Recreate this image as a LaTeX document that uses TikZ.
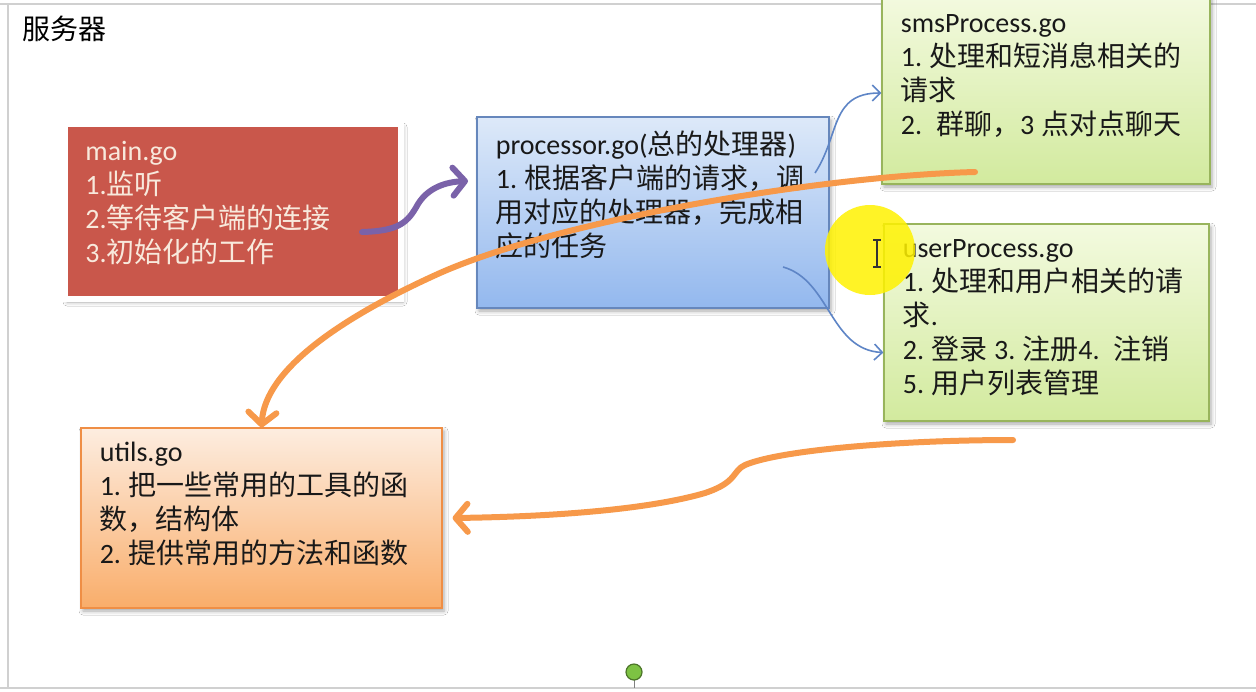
\documentclass[tikz,border=0pt]{standalone}
\usepackage{fontspec}
\setmainfont{Carlito}
\newfontfamily\zhfont{Noto Sans CJK SC}
\newcommand{\zh}[1]{{\zhfont #1}}
\newcommand{\gap}{\kern3.5pt}
\usetikzlibrary{arrows.meta, shadows.blur, positioning}
\definecolor{MainRed}{HTML}{C9574B}
\definecolor{MainText}{HTML}{F8E9DC}
\definecolor{ProcTop}{HTML}{DDE9F9}
\definecolor{ProcBottom}{HTML}{93B8EE}
\definecolor{ProcLine}{HTML}{6687BC}
\definecolor{SubTop}{HTML}{F3FADF}
\definecolor{SubBottom}{HTML}{D2EA9E}
\definecolor{SubLine}{HTML}{98B45C}
\definecolor{UtilTop}{HTML}{FDEDE0}
\definecolor{UtilBottom}{HTML}{F9AD6A}
\definecolor{UtilLine}{HTML}{EF8E45}
\definecolor{FlowOrange}{HTML}{F7994A}
\definecolor{FlowPurple}{HTML}{7A62A9}
\definecolor{FlowBlue}{HTML}{5E85C6}
\definecolor{SheetGray}{HTML}{D0D0D0}
\definecolor{PinGreen}{HTML}{7DC243}

\tikzset{
  filebox/.style={
    rectangle,
    line width=0.6pt,
    blur shadow={shadow xshift=1pt, shadow yshift=-1.5pt, shadow blur radius=2pt, shadow opacity=35}
  },
  filetext/.style={
    anchor=base west,
    inner sep=0pt,
    text width=200pt,
    align=left,
    text=black!90,
    font=\fontsize{14}{17}\selectfont
  },
  bigflow/.style={line width=3pt, line cap=round, -{Straight Barb[length=6pt, width=14pt, round]}},
  thinflow/.style={line width=0.8pt, FlowBlue, -{Straight Barb[length=4pt, width=8pt]}}
}

\begin{document}
\begin{tikzpicture}[x=0.5pt, y=-0.5pt]
\clip (0,0) rectangle (1256,691);
\fill[white] (0,0) rectangle (1256,691);
\draw[SheetGray, line width=1pt] (0,4) -- (1256,4) (8,4) -- (8,688) (0,688) -- (1256,688);

\node[anchor=base west, inner sep=0pt, font=\fontsize{14}{17}\selectfont] (title) at (22,39) {\zh{服务器}};

% file boxes
\node[filebox, fill=MainRed, draw=white, line width=3pt,
      minimum width=168pt, minimum height=87.5pt] (main) at (233,211.5) {};
\node[filebox, top color=ProcTop, bottom color=ProcBottom, draw=ProcLine,
      minimum width=176pt, minimum height=95.5pt] (proc) at (653,212.5) {};
\node[filebox, top color=SubTop, bottom color=SubBottom, draw=SubLine,
      minimum width=164pt, minimum height=94pt] (sms) at (1046,90) {};
\node[filebox, top color=SubTop, bottom color=SubBottom, draw=SubLine,
      minimum width=162.5pt, minimum height=98.5pt] (user) at (1046.5,322.5) {};
\node[filebox, top color=UtilTop, bottom color=UtilBottom, draw=UtilLine,
      minimum width=180.5pt, minimum height=90pt] (utils) at (261.5,518) {};

\node[filetext, text=MainText] (maintext) at ([xshift=11.5pt, yshift=-19.5pt]main.north west)
  {main.go\\1.\zh{监听}\\2.\zh{等待客户端的连接}\\3.\zh{初始化的工作}};
\node[filetext] (proctext) at ([xshift=9.5pt, yshift=-19pt]proc.north west)
  {processor.go(\zh{总的处理器})\\1.\gap\zh{根据客户端的请求，调}\\\zh{用对应的处理器，完成相}\\\zh{应的任务}};
\node[filetext] (smstext) at ([xshift=9.5pt, yshift=-18.5pt]sms.north west)
  {smsProcess.go\\1.\gap\zh{处理和短消息相关的}\\\zh{请求}\\2.\gap\gap\zh{群聊，}3\gap\zh{点对点聊天}};
\node[filetext] (usertext) at ([xshift=9.5pt, yshift=-17pt]user.north west)
  {userProcess.go\\1.\gap\zh{处理和用户相关的请}\\\zh{求}.\\2.\gap\zh{登录}\gap3.\gap\zh{注册}4.\gap\gap\zh{注销}\\5.\gap\zh{用户列表管理}};
\node[filetext] (utilstext) at ([xshift=9.5pt, yshift=-17pt]utils.north west)
  {utils.go\\1.\gap\zh{把一些常用的工具的函}\\\zh{数，结构体}\\2.\gap\zh{提供常用的方法和函数}};

% connectors
\coordinate (mainout) at (362,232);
\coordinate (procin) at (468,181);
\coordinate (procup) at (815,173);
\coordinate (procdown) at (783,267);
\coordinate (smsout) at (975,172);
\coordinate (userout) at (1013,440);

\draw[bigflow, FlowPurple] (mainout) .. controls (400,231) and (408,222) .. (418,204)
  .. controls (428,188) and (445,182) .. (procin);
\draw[thinflow] (procup) .. controls (840,135) and (830,93) .. ([yshift=-1.5pt]sms.west);
\draw[thinflow] (procdown) .. controls (830,280) and (830,350) .. ([yshift=-15pt]user.west);
\draw[bigflow, FlowOrange] (smsout) .. controls (820,176) and (560,220) .. (440,273)
  .. controls (340,318) and (265,370) .. (utils.north);
\draw[bigflow, FlowOrange] (userout) .. controls (900,440) and (780,450) .. (745,465)
  .. controls (732,471) and (738,482) .. (705,493)
  .. controls (640,512) and (530,517) .. ([xshift=5pt]utils.east);

% pointer highlight
\fill[yellow, opacity=0.85] (870,250) circle [radius=22.5pt];
\draw[black!80, line width=0.8pt] (873,240) -- (881,240) (877,240) -- (877,267) (873,267) -- (881,267);

\draw[black!50] (634,680) -- (634,688);
\filldraw[fill=PinGreen, draw=PinGreen!60!black, line width=0.6pt] (634,672) circle [radius=4pt];
\end{tikzpicture}
\end{document}
